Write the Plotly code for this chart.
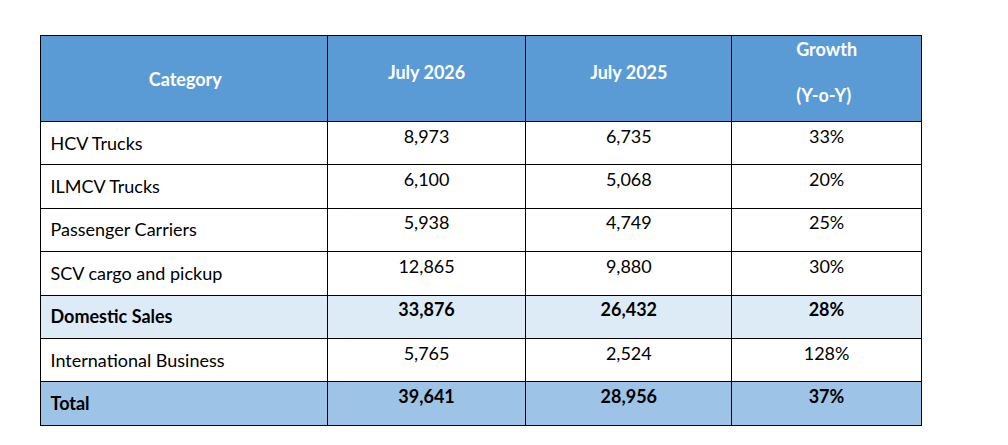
import plotly.graph_objects as go

# ข้อมูลตาราง
header_labels = ["Category", "July 2026", "July 2025", "Growth<br><br>(Y-o-Y)"]
categories = ["HCV Trucks", "ILMCV Trucks", "Passenger Carriers", "SCV cargo and pickup",
              "Domestic Sales", "International Business", "Total"]
july_2026 = ["8,973", "6,100", "5,938", "12,865", "33,876", "5,765", "39,641"]
july_2025 = ["6,735", "5,068", "4,749", "9,880", "26,432", "2,524", "28,956"]
growth = ["33%", "20%", "25%", "30%", "28%", "128%", "37%"]
bold_rows = [False, False, False, False, True, False, True]

row_kind = ["normal", "normal", "normal", "normal", "sub", "normal", "total"]
row_colors = {"normal": "white", "sub": "#DDEBF7", "total": "#9DC3E6"}
fill = [row_colors[k] for k in row_kind]


def styled(vals):
    # ห่อทุกเซลล์ด้วยแท็ก เพื่อให้ตำแหน่งแนวตั้งเท่ากัน
    return ["<b>%s</b>" % v if b else "<span>%s</span>" % v
            for v, b in zip(vals, bold_rows)]


W, H = 1008, 445
FONT = "Lato"
SIZE = 18
HEADER_H = 86
ROW_H = 43.4
widths = [287, 199, 206, 190]
CLEAR = "rgba(0,0,0,0)"
NB = "\u00a0<br>"  # บรรทัดว่างนำหน้า
N = len(categories)

# กรอบตาราง (พิกเซล) - plotly เลื่อนตารางไป ~8px จึงชดเชย
left, right, top = 40.5 - 8, 921.5 - 8, 35.5 - 8
bottom = top + HEADER_H + ROW_H * N + 2
col1_right = left + widths[0] * (right - left) / sum(widths)


def dom(x0, x1, dy):
    return dict(x=[x0 / W, x1 / W], y=[1 - (bottom + dy) / H, 1 - (top + dy) / H])


fig = go.Figure()

# ตารางหลัก: เส้นตารางและสีพื้นเท่านั้น
fig.add_trace(go.Table(
    domain=dom(left, right, 0),
    columnwidth=widths,
    header=dict(
        values=["", "", "", ""],
        fill_color="#5B9BD5",
        line=dict(color="black", width=1),
        font=dict(family=FONT, size=SIZE, color="white"),
        height=HEADER_H,
    ),
    cells=dict(
        values=[[""] * N] * 4,
        fill_color=[fill] * 4,
        line=dict(color="black", width=1),
        font=dict(family=FONT, size=SIZE, color="black"),
        height=ROW_H,
    ),
))

# ข้อความหัวตารางและตัวเลข ยกขึ้นเล็กน้อย
fig.add_trace(go.Table(
    domain=dom(left, right, -6),
    columnwidth=widths,
    header=dict(
        values=["", NB + "<b>%s</b>" % header_labels[1], NB + "<b>%s</b>" % header_labels[2],
                "<b>%s</b>" % header_labels[3]],
        fill_color=CLEAR,
        line=dict(color=CLEAR, width=0),
        font=dict(family=FONT, size=SIZE, color="white"),
        align="center",
        height=HEADER_H + 1,
    ),
    cells=dict(
        values=[[""] * N, styled(july_2026), styled(july_2025), styled(growth)],
        fill_color=CLEAR,
        line=dict(color=CLEAR, width=0),
        font=dict(family=FONT, size=SIZE, color="black"),
        align="center",
        height=ROW_H,
    ),
))

# คอลัมน์ Category วางทับ เลื่อนลงเล็กน้อย
fig.add_trace(go.Table(
    domain=dom(left + 2, col1_right + 2, 1),
    columnwidth=[widths[0]],
    header=dict(
        values=[NB + "<b>%s</b>" % header_labels[0]],
        fill_color=CLEAR,
        line=dict(color=CLEAR, width=0),
        font=dict(family=FONT, size=SIZE, color="white"),
        align="center",
        height=HEADER_H + 1,
    ),
    cells=dict(
        values=[styled(categories)],
        fill_color=CLEAR,
        line=dict(color=CLEAR, width=0),
        font=dict(family=FONT, size=SIZE, color="black"),
        align="left",
        height=ROW_H,
    ),
))

fig.update_layout(
    width=W, height=H,
    margin=dict(l=0, r=0, t=0, b=0),
    paper_bgcolor="white",
)

fig.write_html("out.html")
